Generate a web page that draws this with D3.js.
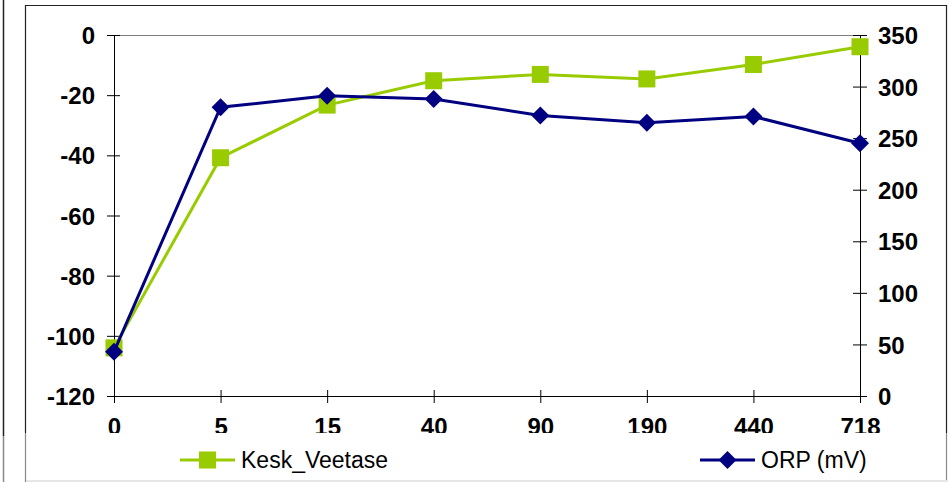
<!DOCTYPE html>
<html><head><meta charset="utf-8">
<script src="https://cdn.jsdelivr.net/npm/d3@7"></script>
<style>body{margin:0;background:#fff}svg{display:block}</style>
</head><body>
<svg id="c" width="948" height="482"></svg>
<script>
const categories = ["0","5","15","40","90","190","440","718"];
const keskVeetase = [-104, -40.8, -23.3, -15.2, -13.1, -14.6, -9.8, -3.9];
const orp = [43, 280, 291, 288, 272, 265, 271, 245];
const leftTicks = [0,-20,-40,-60,-80,-100,-120];
const rightTicks = [0,50,100,150,200,250,300,350];
const seriesNames = ["Kesk_Veetase","ORP (mV)"];

const svg = d3.select("#c");
const green = "#99CC00", navy = "#000080";
const font = "'Liberation Sans', Arial, sans-serif";

// stray frame lines
svg.append("line").attr("x1",3.5).attr("x2",3.5).attr("y1",0).attr("y2",436).attr("stroke","#222").attr("stroke-width",1.5);
svg.append("line").attr("x1",3.5).attr("x2",3.5).attr("y1",436).attr("y2",482).attr("stroke","#888").attr("stroke-width",1.5);
// chart frame
svg.append("path").attr("d","M25.5,433 V5.5 H946.5 V433").attr("fill","none").attr("stroke","#222").attr("stroke-width",1.2);
svg.append("path").attr("d","M25.5,433 V482 M946.5,433 V482").attr("fill","none").attr("stroke","#888").attr("stroke-width",1.2);
svg.append("rect").attr("x",26).attr("y",480).attr("width",922).attr("height",2).attr("fill","#e6e6e6");

const x = d3.scalePoint().domain(categories).range([114, 860]);
const yL = d3.scaleLinear().domain([-120, 0]).range([396, 35]);
const yR = d3.scaleLinear().domain([0, 350]).range([396, 35]);
const fmt = d => String(d);

// plot top border
svg.append("line").attr("x1",114).attr("x2",860).attr("y1",35.5).attr("y2",35.5).attr("stroke","#808080");

function styleAxis(g){
  g.selectAll("path.domain").attr("stroke","#000");
  g.selectAll(".tick line").attr("stroke","#000");
  g.selectAll("text").attr("font-family",font).attr("font-size",24).attr("font-weight","bold").attr("fill","#000");
}
// left axis (cross ticks)
const gL = svg.append("g").attr("transform","translate(114,0)")
  .call(d3.axisLeft(yL).tickValues(leftTicks).tickFormat(fmt).tickSize(7).tickSizeOuter(0).tickPadding(12));
gL.selectAll(".tick line").attr("x1",6).attr("x2",-7);
styleAxis(gL);
gL.selectAll("text").attr("dy","0.36em");

// right axis
const gR = svg.append("g").attr("transform","translate(860,0)")
  .call(d3.axisRight(yR).tickValues(rightTicks).tickFormat(fmt).tickSize(7).tickSizeOuter(0).tickPadding(11));
gR.selectAll(".tick line").attr("x2",7).attr("x1",-7);
styleAxis(gR);
gR.selectAll("text").attr("dy","0.36em");

// bottom axis, labels clipped at y=433
svg.append("clipPath").attr("id","clipx").append("rect").attr("x",-10).attr("y",-10).attr("width",960).attr("height",47);
const gB = svg.append("g").attr("transform","translate(0,396)").attr("clip-path","url(#clipx)")
  .call(d3.axisBottom(x).tickSize(7).tickSizeOuter(0).tickPadding(14.5));
gB.selectAll(".tick line").attr("y1",-6).attr("y2",7);
styleAxis(gB);
gB.selectAll("text").attr("dy","0.71em");
gB.select("path.domain").remove();
svg.append("line").attr("x1",114).attr("x2",860).attr("y1",396.5).attr("y2",396.5).attr("stroke","#000");

// series lines
const lineL = d3.line().x((d,i)=>x(categories[i])).y(d=>yL(d));
const lineR = d3.line().x((d,i)=>x(categories[i])).y(d=>yR(d));
svg.append("path").attr("d",lineL(keskVeetase)).attr("fill","none").attr("stroke",green).attr("stroke-width",3);
svg.selectAll("rect.sq").data(keskVeetase).join("rect").attr("class","sq")
  .attr("x",(d,i)=>x(categories[i])-8.5).attr("y",d=>yL(d)-8.5).attr("width",17).attr("height",17).attr("fill",green);
svg.append("path").attr("d",lineR(orp)).attr("fill","none").attr("stroke",navy).attr("stroke-width",3);
const diamond = (cx,cy,r)=>`M${cx},${cy-r}L${cx+r},${cy}L${cx},${cy+r}L${cx-r},${cy}Z`;
svg.selectAll("path.dm").data(orp).join("path").attr("class","dm")
  .attr("d",(d,i)=>diamond(x(categories[i]),yR(d),9)).attr("fill",navy);

// legend
const leg = [
  {name:seriesNames[0], color:green, x1:180, x2:235, type:"sq"},
  {name:seriesNames[1], color:navy, x1:700, x2:755, type:"dm"}
];
const ly = 460;
leg.forEach(l=>{
  svg.append("line").attr("x1",l.x1).attr("x2",l.x2).attr("y1",ly).attr("y2",ly).attr("stroke",l.color).attr("stroke-width",3);
  const cx=(l.x1+l.x2)/2;
  if(l.type==="sq") svg.append("rect").attr("x",cx-8.5).attr("y",ly-8.5).attr("width",17).attr("height",17).attr("fill",l.color);
  else svg.append("path").attr("d",diamond(cx,ly,9)).attr("fill",l.color);
  svg.append("text").attr("x",l.x2+6).attr("y",ly).attr("dy","0.36em").attr("font-family",font).attr("font-size",23).attr("fill","#000").text(l.name);
});
</script>
</body></html>
